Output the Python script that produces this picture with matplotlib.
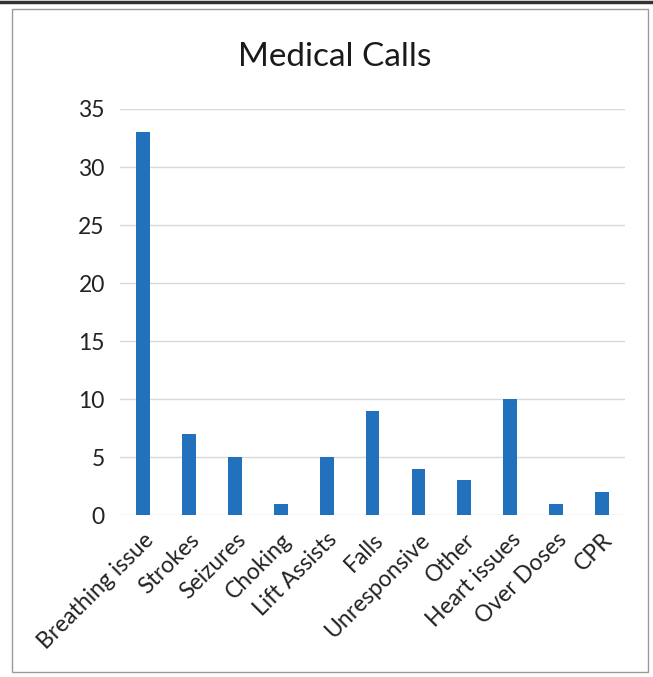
import matplotlib.pyplot as plt
from matplotlib.patches import Rectangle

# medical call counts by type
categories = ['Breathing issue', 'Strokes', 'Seizures', 'Choking', 'Lift Assists',
              'Falls', 'Unresponsive', 'Other', 'Heart issues', 'Over Doses', 'CPR']
calls = [33, 7, 5, 1, 5, 9, 4, 3, 10, 1, 2]
yticks = [0, 5, 10, 15, 20, 25, 30, 35]

plt.rcParams['font.family'] = ['Lato', 'DejaVu Sans']

fig = plt.figure(figsize=(6.53, 6.77), dpi=100)
ax = fig.add_axes([0.184, 0.239, 0.773, 0.600])

x = range(len(categories))
ax.bar(x, calls, width=0.3, color='#2271BD', zorder=3)

ax.set_xlim(-0.5, len(categories) - 0.5)
ax.set_ylim(0, 35)
ax.set_yticks(yticks)
ax.set_xticks(list(x))
ax.set_xticklabels(categories, rotation=45, ha='right', rotation_mode='anchor',
                   fontsize=16.5, color='#222222')
ax.tick_params(axis='y', labelsize=16.5, colors='#222222', length=0, pad=11)
ax.tick_params(axis='x', length=0, pad=10)

ax.grid(axis='y', color='#d9d9d9', linewidth=1, zorder=0)
for s in ax.spines.values():
    s.set_visible(False)

fig.text(0.513, 0.916, 'Medical Calls', ha='center', va='center',
         fontsize=24, color='#1a1a1a')

# chart border from the scanned sheet
fig.patches.append(Rectangle((0.018, 0.008), 0.975, 0.978, transform=fig.transFigure,
                             fill=False, edgecolor='#9a9a9a', linewidth=1))
fig.add_artist(plt.Line2D([0, 1], [0.997, 0.997], transform=fig.transFigure,
                          color='#333333', linewidth=2.5))

fig.savefig('out.png', dpi=100)
